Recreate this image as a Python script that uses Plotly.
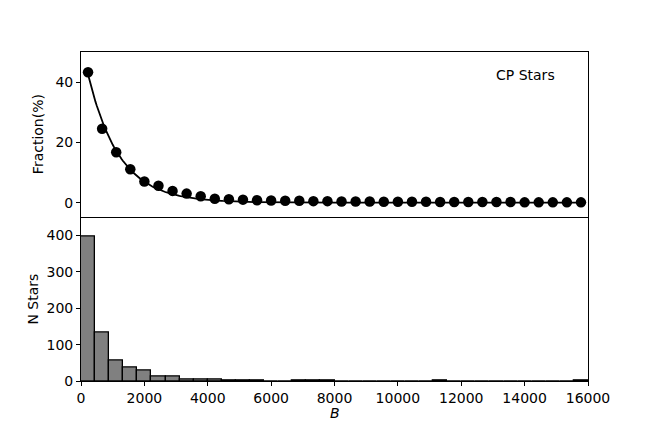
import numpy as np
import plotly.graph_objects as go
from plotly.subplots import make_subplots

# histogram bins in B (36 bins over 0-16000)
bin_edges = np.linspace(0, 16000, 37)
bin_centers = 0.5 * (bin_edges[:-1] + bin_edges[1:])
bin_width = bin_edges[1] - bin_edges[0]

# fraction (%) of CP stars per bin
fraction = [43.3, 24.5, 16.7, 11.1, 7.0, 5.6, 3.9, 3.0, 2.1, 1.3, 1.1, 1.0,
            0.8, 0.7, 0.6, 0.6, 0.5, 0.5, 0.4, 0.4, 0.4, 0.3, 0.3, 0.3,
            0.3, 0.2, 0.2, 0.2, 0.2, 0.2, 0.2, 0.1, 0.1, 0.1, 0.1, 0.1]

# number of stars per bin
n_stars = [397, 133, 55, 38, 28, 12, 12, 5, 5, 4, 2, 1, 1, 0, 0, 1, 2, 1,
           0, 0, 0, 0, 0, 0, 0, 1, 0, 0, 0, 0, 0, 0, 0, 0, 0, 1]

# exponential fit parameters: amp * exp(-B / scale)
fit_amp = 53.4
fit_scale = 980.0
fit_x = np.linspace(bin_centers[0], bin_centers[-1], 400)
fit_y = fit_amp * np.exp(-fit_x / fit_scale)

fig = make_subplots(rows=2, cols=1, shared_xaxes=True, vertical_spacing=0)

fig.add_trace(go.Scatter(x=fit_x, y=fit_y, mode="lines",
                         line=dict(color="black", width=1.8)), row=1, col=1)
fig.add_trace(go.Scatter(x=bin_centers, y=fraction, mode="markers",
                         marker=dict(color="black", size=10.5)), row=1, col=1)
fig.add_trace(go.Bar(x=bin_centers, y=n_stars, width=bin_width,
                     marker=dict(color="#808080", line=dict(color="black", width=1.3))),
              row=2, col=1)

fsize = 14
axis_style = dict(showline=True, linecolor="black", linewidth=0.9, mirror=True,
                  ticks="outside", ticklen=4, tickwidth=1, tickcolor="black",
                  showgrid=False, zeroline=False,
                  tickfont=dict(family="DejaVu Sans", size=fsize, color="black"))

fig.update_xaxes(axis_style)
fig.update_yaxes(axis_style)
fig.update_xaxes(range=[0, 16000], dtick=2000, tickformat="d", mirror=False,
                 row=2, col=1)
fig.update_xaxes(ticks="", showticklabels=False, row=1, col=1)
fig.update_yaxes(range=[-4.6, 50], tickvals=[0, 20, 40], row=1, col=1)
fig.update_yaxes(range=[0, 452], dtick=100, row=2, col=1)

label = dict(xref="paper", yref="paper", showarrow=False,
             xanchor="center", yanchor="middle", font=dict(size=fsize))

fig.update_layout(
    width=654,
    height=436,
    margin=dict(l=73, r=74, t=44, b=63),
    plot_bgcolor="white",
    paper_bgcolor="white",
    showlegend=False,
    bargap=0,
    font=dict(family="DejaVu Sans", size=fsize, color="black"),
    annotations=[
        dict(label, text="CP Stars", x=0.876, y=0.93),
        dict(label, text="Fraction(%)", x=-0.085, y=0.75, textangle=-90),
        dict(label, text="N Stars", x=-0.095, y=0.25, textangle=-90),
        dict(label, text="<i>B</i>", x=0.5, y=-0.097),
    ],
)

fig.write_html("out.html")
